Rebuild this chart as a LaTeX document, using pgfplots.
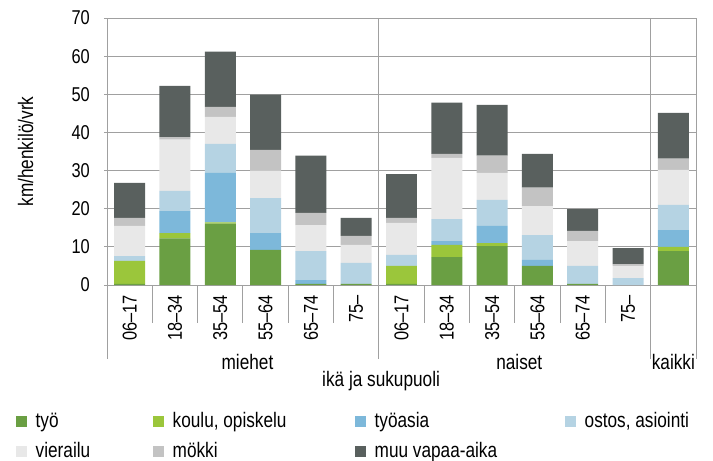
\documentclass[border=0pt]{standalone}
\usepackage{fontspec}
\setmainfont{Liberation Sans}[FakeStretch=0.82]
\usepackage{pgfplots}
\usepackage{pgfplotstable}
\pgfplotsset{compat=1.18}
\definecolor{cTyo}{HTML}{6A9F43}
\definecolor{cKoulu}{HTML}{9BC63B}
\definecolor{cTyoasia}{HTML}{7DB8DA}
\definecolor{cOstos}{HTML}{B5D3E3}
\definecolor{cVier}{HTML}{E8E8E8}
\definecolor{cMokki}{HTML}{C3C3C3}
\definecolor{cMuu}{HTML}{59605E}
\definecolor{cGrid}{HTML}{A0A0A0}
\newcommand\fa{\fontsize{20bp}{24bp}\selectfont}
\newcommand\fb{\fontsize{21bp}{25bp}\selectfont}
\pgfplotstableread{
x tyo koulu tyoasia ostos vierailu mokki muu
0 0.3 6.0 0 1.3 7.9 2.1 9.2
1 12.2 1.4 5.8 5.3 13.4 0.7 13.4
2 16.1 0.3 13.0 7.6 7.1 2.6 14.5
3 9.2 0 4.4 9.2 7.1 5.5 14.5
4 0.3 0 1.0 7.6 6.8 3.2 15.0
5 0.3 0 0 5.5 4.7 2.4 4.7
6 0.3 4.7 0 2.9 8.4 1.3 11.5
7 7.3 3.2 1.0 5.8 16.0 1.1 13.4
8 10.2 0.8 4.5 6.8 7.1 4.5 13.3
9 5.0 0 1.6 6.5 7.6 4.8 8.9
10 0.3 0 0 4.7 6.5 2.7 5.7
11 0 0 0 1.8 3.2 0.5 4.2
12 8.9 1.1 4.4 6.6 9.2 2.9 12.0
}\data
\pgfplotsset{sq/.style={draw=none, legend image code/.code={\fill[##1,draw=none] (0bp,-5.5bp) rectangle (11bp,5.5bp);}}}
\begin{document}
\begin{tikzpicture}
\path[use as bounding box] (-107bp,-176bp) rectangle (606bp,285bp);
\begin{axis}[
  at={(0,0)}, anchor=south west,
  scale only axis, width=589bp, height=267bp,
  xmin=-0.5, xmax=12.5, ymin=0, ymax=70,
  ybar stacked, bar width=0.684,
  clip=false,
  ytick={0,10,...,70},
  ymajorgrids, grid style={draw=cGrid, line width=0.9bp},
  axis line style={draw=cGrid, line width=0.9bp},
  ytick pos=left, ytick align=center, major tick length=6bp,
  ytick style={draw=cGrid, line width=0.9bp},
  xtick={0,...,11},
  xticklabels={06--17,18--34,35--54,55--64,65--74,75--,06--17,18--34,35--54,55--64,65--74,75--},
  xtick style={draw=none},
  x tick label style={rotate=90, anchor=east, font=\fa, inner xsep=10bp, inner ysep=0pt},
  y tick label style={font=\fa, anchor=east, inner sep=0pt, xshift=-14bp},
  /pgf/number format/assume math mode=true,
  legend columns=4,
  legend style={at={(rel axis cs:0,0)}, anchor=north west, xshift=-91.3bp, yshift=-127bp,
    draw=none, fill=none, inner sep=0pt, outer sep=0pt, row sep=12bp,
    font=\fb, nodes={inner sep=0pt, text height=15bp, text depth=3bp},
    /tikz/every odd column/.append style={column sep=9bp}},
  legend cell align=left,
]
\addplot[sq, fill=cTyo] table[x=x, y=tyo] {\data};
\addlegendentry{\makebox[117bp][l]{työ}}
\addplot[sq, fill=cKoulu] table[x=x, y=koulu] {\data};
\addlegendentry{\makebox[182bp][l]{koulu, opiskelu}}
\addplot[sq, fill=cTyoasia] table[x=x, y=tyoasia] {\data};
\addlegendentry{\makebox[190bp][l]{työasia}}
\addplot[sq, fill=cOstos] table[x=x, y=ostos] {\data};
\addlegendentry{ostos, asiointi}
\addplot[sq, fill=cVier] table[x=x, y=vierailu] {\data};
\addlegendentry{\makebox[117bp][l]{vierailu}}
\addplot[sq, fill=cMokki] table[x=x, y=mokki] {\data};
\addlegendentry{\makebox[182bp][l]{mökki}}
\addplot[sq, fill=cMuu] table[x=x, y=muu] {\data};
\addlegendentry{\makebox[190bp][l]{muu vapaa-aika}}
\pgfplotsinvokeforeach{0.5,1.5,2.5,3.5,4.5,6.5,7.5,8.5,9.5,10.5}{\draw[cGrid, line width=0.9bp] (axis cs:#1,0) -- ([yshift=-38bp]axis cs:#1,0);}
\pgfplotsinvokeforeach{-0.5,12.5}{\draw[cGrid, line width=0.9bp] (axis cs:#1,0) -- ([yshift=-74bp]axis cs:#1,0);}
\pgfplotsinvokeforeach{5.5,11.5}{\draw[cGrid, line width=0.9bp] (axis cs:#1,70) -- ([yshift=-74bp]axis cs:#1,0);}
\node[font=\fb] at (axis cs:2.6,0) [yshift=-77bp] {miehet};
\node[font=\fb] at (axis cs:8.6,0) [yshift=-77bp] {naiset};
\node[font=\fb] at (axis cs:12,0) [yshift=-77bp] {kaikki};
\node[font=\fb] at (axis cs:5.55,0) [yshift=-96bp] {ikä ja sukupuoli};
\node[font=\fb, xshift=-81.5bp, rotate=90] at (rel axis cs:0,0.5) {km/henkilö/vrk};
\end{axis}
\end{tikzpicture}
\end{document}
